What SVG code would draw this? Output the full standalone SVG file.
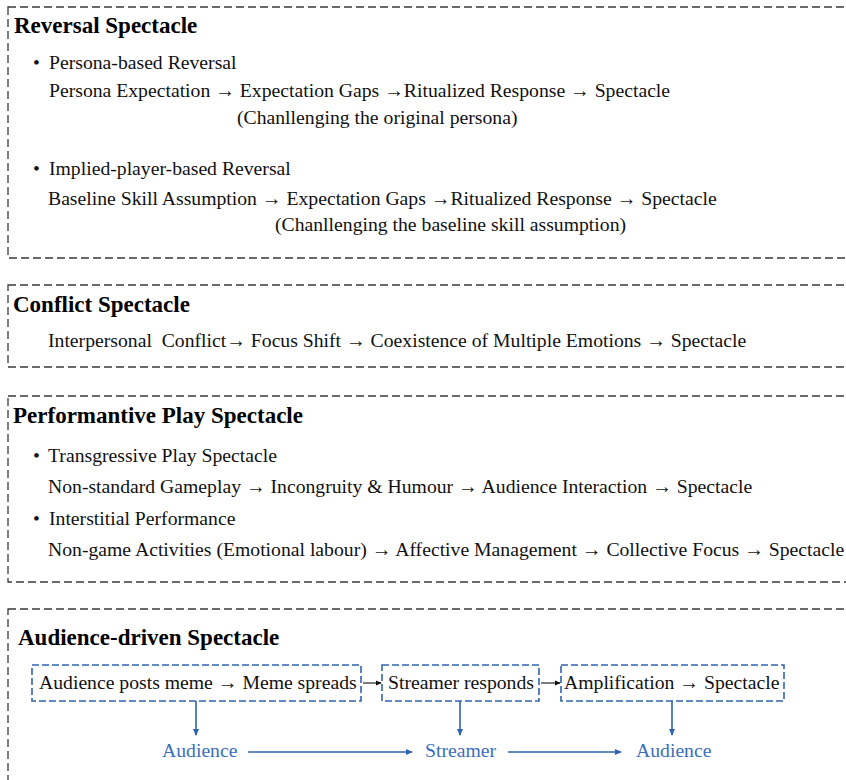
<svg xmlns="http://www.w3.org/2000/svg" width="846" height="780" viewBox="0 0 846 780">
<defs>
<style>
.sec{fill:none;stroke:#3a3a3a;stroke-width:1.3;stroke-dasharray:8 4}
.inner{fill:none;stroke:#2f64b0;stroke-width:1.6;stroke-dasharray:7 3}
.title{font-family:"Liberation Serif","Times New Roman",serif;font-size:23px;font-weight:bold;fill:#000}
.t{font-family:"Liberation Serif","Times New Roman",serif;font-size:19.7px;fill:#111;white-space:pre}
.b{font-family:"Liberation Serif","Times New Roman",serif;font-size:19.7px;fill:#3a6fbd}
.bl{stroke:#2f64b0;stroke-width:1.6;fill:none}
.kl{stroke:#111;stroke-width:1.1;fill:none}
</style>
<marker id="ab" viewBox="0 0 8 8" refX="7" refY="4" markerWidth="7" markerHeight="7" markerUnits="userSpaceOnUse" orient="auto">
<path d="M0,0.5 L8,4 L0,7.5 Z" fill="#2f64b0"/>
</marker>
<marker id="ak" viewBox="0 0 8 8" refX="7" refY="4" markerWidth="6" markerHeight="6" markerUnits="userSpaceOnUse" orient="auto">
<path d="M0,0.5 L8,4 L0,7.5 Z" fill="#111"/>
</marker>
</defs>
<rect width="846" height="780" fill="#fff"/>

<g id="reversal">
<rect class="sec" x="8" y="7" width="845" height="251"/>
<text class="title" x="14" y="33">Reversal Spectacle</text>
<text class="t" x="33" y="69">•</text>
<text class="t" x="49" y="69">Persona-based Reversal</text>
<text class="t" x="49" y="97">Persona Expectation → Expectation Gaps →Ritualized Response → Spectacle</text>
<text class="t" x="237" y="124">(Chanllenging the original persona)</text>
<text class="t" x="33" y="175">•</text>
<text class="t" x="49" y="175">Implied-player-based Reversal</text>
<text class="t" x="48" y="205">Baseline Skill Assumption → Expectation Gaps →Ritualized Response → Spectacle</text>
<text class="t" x="275" y="231">(Chanllenging the baseline skill assumption)</text>
</g>

<g id="conflict">
<rect class="sec" x="8" y="285" width="845" height="82"/>
<text class="title" x="13" y="312">Conflict Spectacle</text>
<text class="t" x="48" y="347" xml:space="preserve">Interpersonal  Conflict→ Focus Shift → Coexistence of Multiple Emotions → Spectacle</text>
</g>

<g id="performative">
<rect class="sec" x="8" y="396" width="845" height="186"/>
<text class="title" x="13" y="423">Performantive Play Spectacle</text>
<text class="t" x="33" y="462">•</text>
<text class="t" x="48" y="462">Transgressive Play Spectacle</text>
<text class="t" x="48" y="493">Non-standard Gameplay → Incongruity &amp; Humour → Audience Interaction → Spectacle</text>
<text class="t" x="33" y="525">•</text>
<text class="t" x="49" y="525">Interstitial Performance</text>
<text class="t" x="48" y="556">Non-game Activities (Emotional labour) → Affective Management → Collective Focus → Spectacle</text>
</g>

<g id="audience-driven">
<rect class="sec" x="8" y="609" width="845" height="190"/>
<text class="title" x="18" y="645">Audience-driven Spectacle</text>
</g>

<g id="meme-box">
<rect class="inner" x="32" y="665" width="329" height="36"/>
<text class="t" x="39" y="689">Audience posts meme → Meme spreads</text>
</g>
<g id="streamer-box">
<rect class="inner" x="382" y="665" width="157" height="36"/>
<text class="t" x="388" y="689">Streamer responds</text>
</g>
<g id="amplification-box">
<rect class="inner" x="561" y="665" width="223" height="36"/>
<text class="t" x="564" y="689">Amplification → Spectacle</text>
</g>

<g id="audience-1"><text class="b" x="162" y="757">Audience</text></g>
<g id="streamer"><text class="b" x="425" y="757">Streamer</text></g>
<g id="audience-2"><text class="b" x="636" y="757">Audience</text></g>

<g id="connectors">
<line class="kl" x1="363" y1="683" x2="381" y2="683" marker-end="url(#ak)"/>
<line class="kl" x1="541" y1="683" x2="560" y2="683" marker-end="url(#ak)"/>
<line class="bl" x1="196" y1="701" x2="196" y2="735" marker-end="url(#ab)"/>
<line class="bl" x1="460" y1="701" x2="460" y2="735" marker-end="url(#ab)"/>
<line class="bl" x1="672" y1="701" x2="672" y2="735" marker-end="url(#ab)"/>
<line class="bl" x1="248" y1="752" x2="412" y2="752" marker-end="url(#ab)"/>
<line class="bl" x1="508" y1="752" x2="621" y2="752" marker-end="url(#ab)"/>
</g>
</svg>
